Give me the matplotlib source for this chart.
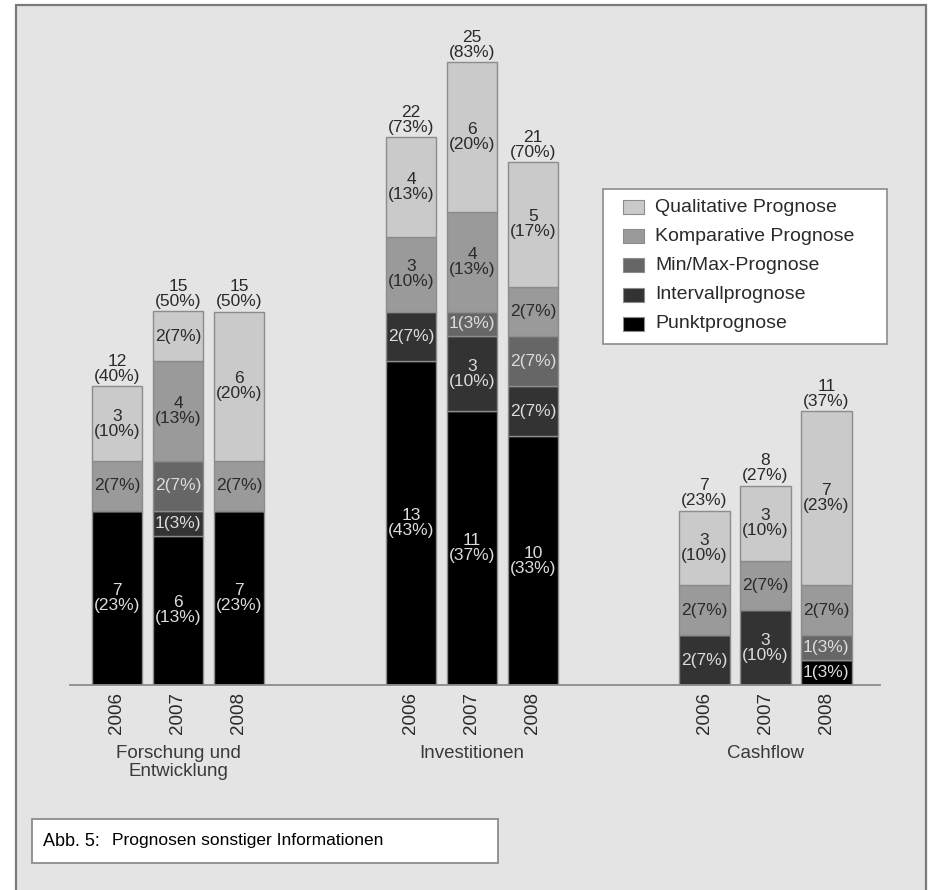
import numpy as np
import matplotlib.pyplot as plt
from matplotlib.patches import Rectangle

plt.rcParams['font.family'] = ['Liberation Sans', 'DejaVu Sans']

groups = ['Forschung und\nEntwicklung', 'Investitionen', 'Cashflow']
years = ['2006', '2007', '2008']

# counts per bar, order: F&E 06/07/08, Invest 06/07/08, Cashflow 06/07/08
series = ['Punktprognose', 'Intervallprognose', 'Min/Max-Prognose',
          'Komparative Prognose', 'Qualitative Prognose']
punkt = [7, 6, 7, 13, 11, 10, 0, 0, 1]
intervall = [0, 1, 0, 2, 3, 2, 2, 3, 0]
minmax = [0, 2, 0, 0, 1, 2, 0, 0, 1]
komparativ = [2, 4, 2, 3, 4, 2, 2, 2, 2]
qualitativ = [3, 2, 6, 4, 6, 5, 3, 3, 7]

# percentages as printed in the segment labels
punkt_pct = [23, 13, 23, 43, 37, 33, 0, 0, 3]
intervall_pct = [0, 3, 0, 7, 10, 7, 7, 10, 0]
minmax_pct = [0, 7, 0, 0, 3, 7, 0, 0, 3]
komparativ_pct = [7, 13, 7, 10, 13, 7, 7, 7, 7]
qualitativ_pct = [10, 7, 20, 13, 20, 17, 10, 10, 23]

n_total = 30

values = [punkt, intervall, minmax, komparativ, qualitativ]
pcts = [punkt_pct, intervall_pct, minmax_pct, komparativ_pct, qualitativ_pct]
colors = ['#000000', '#333333', '#666666', '#9a9a9a', '#cacaca']
text_colors = ['#dcdcdc', '#dcdcdc', '#dcdcdc', '#2a2a2a', '#2a2a2a']

W, H = 931, 890
fig = plt.figure(figsize=(W / 100, H / 100), dpi=100)
fig.patch.set_facecolor('white')


def fx(px):
    return px / W


def fy(py):
    return 1 - py / H


# grey panel behind everything
fig.patches.append(Rectangle((fx(16), -0.01), fx(910), 1 - 5 / H + 0.01,
                             transform=fig.transFigure, facecolor='#e4e4e4',
                             edgecolor='#7a7a7a', linewidth=1.6, zorder=-10))

ax = fig.add_axes([fx(70), fy(685), fx(810), 647.4 / H])
ax.patch.set_alpha(0)

group_pos = [0, 4.82, 9.63]
x = np.array([g + i for g in group_pos for i in range(3)])
width = 0.83

bottom = np.zeros(len(x))
for vals, pct, col, tcol in zip(values, pcts, colors, text_colors):
    vals = np.array(vals)
    ax.bar(x, vals, width, bottom=bottom, color=col, edgecolor='#8c8c8c',
           linewidth=1.0, zorder=2)
    for xi, b, v, p in zip(x, bottom, vals, pct):
        if v == 0:
            continue
        if v >= 3:
            label = '%d\n(%d%%)' % (v, p)
        else:
            label = '%d(%d%%)' % (v, p)
        ax.text(xi, b + v / 2, label, ha='center', va='center', color=tcol,
                fontsize=12.5, linespacing=1.0, zorder=3)
    bottom = bottom + vals

# totals above each bar
for xi, tot in zip(x, bottom):
    ax.text(xi, tot + 0.1, '%d\n(%d%%)' % (tot, round(tot / n_total * 100)),
            ha='center', va='bottom', color='#2a2a2a', fontsize=12.5,
            linespacing=1.0)

ax.set_xlim(-0.77, 12.51)
ax.set_ylim(0, 26)
ax.set_xticks(x)
ax.set_xticklabels(years * 3, rotation=90, fontsize=13.5, color='#2a2a2a')
ax.tick_params(axis='x', length=0, pad=5)
ax.set_yticks([])
for side in ['top', 'right', 'left']:
    ax.spines[side].set_visible(False)
ax.spines['bottom'].set_color('#8c8c8c')
ax.spines['bottom'].set_linewidth(1.3)

for g, name in zip(group_pos, groups):
    fig.text(ax.transData.transform((g + 1, 0))[0] / W, fy(745), name,
             ha='center', va='top', fontsize=13.5, color='#3a3a3a',
             linespacing=1.1)

# legend box with the series in reverse order
fig.patches.append(Rectangle((fx(603), fy(344)), fx(284), 155 / H,
                             transform=fig.transFigure, facecolor='white',
                             edgecolor='#8c8c8c', linewidth=1.2, zorder=1))
for k, (name, col) in enumerate(zip(series[::-1], colors[::-1])):
    yc = 207 + k * 29.2
    fig.patches.append(Rectangle((fx(623), fy(yc + 7)), fx(21), 14 / H,
                                 transform=fig.transFigure, facecolor=col,
                                 edgecolor='#8c8c8c', linewidth=0.8, zorder=2))
    fig.text(fx(655), fy(yc), name, ha='left', va='center', fontsize=14,
             color='#2a2a2a')

# caption box
fig.patches.append(Rectangle((fx(32), fy(863)), fx(466), 44 / H,
                             transform=fig.transFigure, facecolor='white',
                             edgecolor='#8c8c8c', linewidth=1.3, zorder=1))
fig.text(fx(43), fy(841), 'Abb. 5:', ha='left', va='center',
         fontsize=13, color='#000000')
fig.text(fx(112), fy(841), 'Prognosen sonstiger Informationen',
         ha='left', va='center', fontsize=12.5, color='#000000')

fig.savefig('out.png', dpi=100)
